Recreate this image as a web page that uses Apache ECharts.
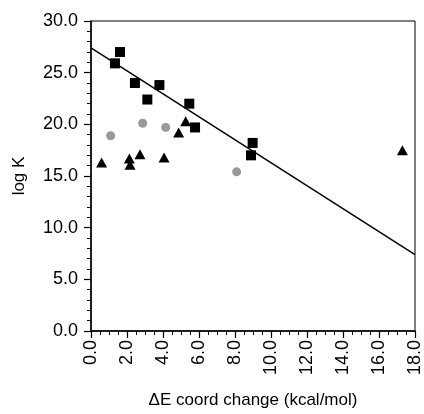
<!DOCTYPE html>
<html>
<head>
<meta charset="utf-8">
<script src="https://cdn.jsdelivr.net/npm/echarts@6/dist/echarts.min.js"></script>
<style>
  html, body { margin: 0; padding: 0; background: #fff; }
  #chart { width: 424px; height: 414px; }
</style>
</head>
<body>
<div id="chart"></div>
<script>
// ΔE coordination change (kcal/mol) vs log K, three compound sets
const squareX = [1.33, 1.61, 2.44, 3.13, 3.80, 5.46, 5.78, 8.98, 8.89];
const squareY = [25.9, 27.0, 24.0, 22.4, 23.8, 22.0, 19.7, 18.2, 17.0];

const circleX = [1.09, 2.87, 4.15, 8.09];
const circleY = [18.9, 20.1, 19.7, 15.4];

const triangleX = [0.59, 2.13, 2.17, 2.72, 4.06, 4.87, 5.26, 17.3];
const triangleY = [16.3, 16.7, 16.1, 17.1, 16.8, 19.2, 20.3, 17.5];

// fitted line end points
const fitX = [0, 18];
const fitY = [27.4, 7.4];

const pairs = (xs, ys) => xs.map((x, i) => [x, ys[i]]);

const font = '"Liberation Sans", Arial, Helvetica, sans-serif';

const chart = echarts.init(document.getElementById('chart'), null, { renderer: 'canvas' });
chart.setOption({
  animation: false,
  backgroundColor: '#fff',
  grid: {
    left: 91, right: 9, top: 21, bottom: 79,
    show: true, borderColor: '#000', borderWidth: 1
  },
  xAxis: {
    type: 'value',
    min: 0, max: 18, interval: 2,
    name: 'ΔE coord change (kcal/mol)',
    nameLocation: 'middle',
    nameGap: 61,
    nameTextStyle: { fontFamily: font, fontSize: 17, color: '#000' },
    axisLine: { show: true, lineStyle: { color: '#000', width: 1.5 } },
    axisTick: { show: true, inside: false, length: 7, lineStyle: { color: '#000', width: 1.2 } },
    minorTick: { show: true, splitNumber: 4, length: 4, lineStyle: { color: '#000', width: 1 } },
    splitLine: { show: false },
    axisLabel: {
      rotate: 90, margin: 9,
      fontFamily: font, fontSize: 18, color: '#000',
      formatter: v => v.toFixed(1)
    }
  },
  yAxis: {
    type: 'value',
    min: 0, max: 30, interval: 5,
    name: 'log K',
    nameLocation: 'middle',
    nameGap: 63,
    nameTextStyle: { fontFamily: font, fontSize: 17, color: '#000' },
    axisLine: { show: true, lineStyle: { color: '#000', width: 1.5 } },
    axisTick: { show: true, inside: false, length: 7, lineStyle: { color: '#000', width: 1.2 } },
    minorTick: { show: true, splitNumber: 5, length: 4, lineStyle: { color: '#000', width: 1 } },
    splitLine: { show: false },
    axisLabel: {
      margin: 13,
      fontFamily: font, fontSize: 18, color: '#000',
      formatter: v => v.toFixed(1)
    }
  },
  series: [
    {
      type: 'line',
      data: pairs(fitX, fitY),
      symbol: 'none',
      lineStyle: { color: '#000', width: 1.5 },
      z: 1
    },
    {
      type: 'scatter',
      data: pairs(squareX, squareY),
      symbol: 'rect',
      symbolSize: 10,
      itemStyle: { color: '#000', opacity: 1 },
      z: 3
    },
    {
      type: 'scatter',
      data: pairs(circleX, circleY),
      symbol: 'circle',
      symbolSize: 9,
      itemStyle: { color: '#999999', opacity: 1 },
      z: 3
    },
    {
      type: 'scatter',
      data: pairs(triangleX, triangleY),
      symbol: 'triangle',
      symbolSize: [11, 10],
      itemStyle: { color: '#000', opacity: 1 },
      z: 3
    }
  ]
});
</script>
</body>
</html>
